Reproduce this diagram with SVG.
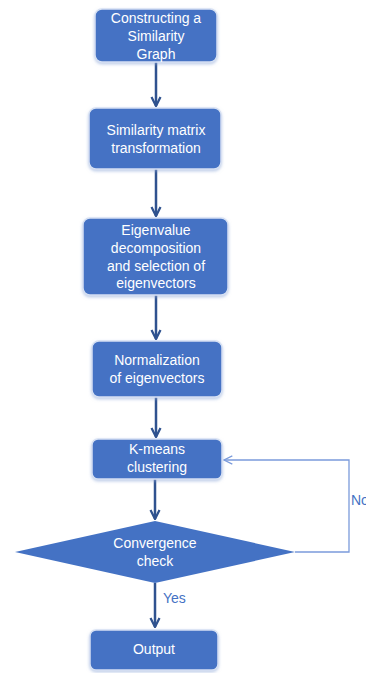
<svg xmlns="http://www.w3.org/2000/svg" width="366" height="673" viewBox="0 0 366 673">
<style>
.box{fill:#4472C4;stroke:#D6E0F3;stroke-width:1.5;filter:url(#sh)}
.t{font-family:"Liberation Sans",Arial,sans-serif;font-size:14px;fill:#FFFFFF;text-anchor:middle}
.lbl{font-family:"Liberation Sans",Arial,sans-serif;font-size:14px;fill:#4472C4}
.main{stroke:#2F528F;stroke-width:2.5;fill:none;marker-end:url(#ah)}
.fb{stroke:#7B9BDB;stroke-width:1.3;fill:none;marker-end:url(#ah2)}
</style>
<defs>
<filter id="sh" x="-10%" y="-10%" width="120%" height="130%">
<feDropShadow dx="0" dy="1.5" stdDeviation="1.5" flood-color="#8FA8D8" flood-opacity="0.6"/>
</filter>
<marker id="ah" viewBox="0 0 10 10" refX="9" refY="5" markerWidth="4.5" markerHeight="4.5" orient="auto" markerUnits="strokeWidth">
<path d="M1,1 L9,5 L1,9" fill="none" stroke="#2F528F" stroke-width="2"/>
</marker>
<marker id="ah2" viewBox="0 0 10 10" refX="9" refY="5" markerWidth="8" markerHeight="8" orient="auto" markerUnits="strokeWidth">
<path d="M1,1 L9,5 L1,9" fill="none" stroke="#7B9BDB" stroke-width="1.2"/>
</marker>
</defs>
<rect width="366" height="673" fill="#FFFFFF"/>
<g id="connectors">
<line class="main" x1="156" y1="62" x2="156" y2="106"/>
<line class="main" x1="156" y1="169" x2="156" y2="216"/>
<line class="main" x1="156" y1="295" x2="156" y2="339"/>
<line class="main" x1="156" y1="397" x2="156" y2="437"/>
<line class="main" x1="155" y1="479" x2="155" y2="519"/>
<line class="main" x1="155" y1="583" x2="155" y2="627"/>
<polyline class="fb" points="295,552 349,552 349,460 224,460"/>
<text class="lbl" x="163" y="603">Yes</text>
<text class="lbl" x="351" y="505">No</text>
</g>
<g id="n1"><rect class="box" x="95" y="9" width="122" height="53" rx="7"/>
<text class="t" x="156" y="22.5">Constructing a</text><text class="t" x="156" y="40.5">Similarity</text><text class="t" x="156" y="58.5">Graph</text></g>
<g id="n2"><rect class="box" x="89" y="108" width="132" height="61" rx="7"/>
<text class="t" x="156" y="135">Similarity matrix</text><text class="t" x="156" y="153">transformation</text></g>
<g id="n3"><rect class="box" x="83" y="218" width="145" height="77" rx="7"/>
<text class="t" x="156" y="235">Eigenvalue</text><text class="t" x="156" y="253">decomposition</text><text class="t" x="156" y="271">and selection of</text><text class="t" x="156" y="288">eigenvectors</text></g>
<g id="n4"><rect class="box" x="92" y="341" width="130" height="56" rx="7"/>
<text class="t" x="157" y="365">Normalization</text><text class="t" x="157" y="383">of eigenvectors</text></g>
<g id="n5"><rect class="box" x="92" y="439" width="130" height="40" rx="6"/>
<text class="t" x="157" y="454">K-means</text><text class="t" x="157" y="472">clustering</text></g>
<g id="n6"><polygon points="15,552 155,521 295,552 155,583" fill="#4472C4"/>
<text class="t" x="155" y="548">Convergence</text><text class="t" x="155" y="566">check</text></g>
<g id="n7"><rect class="box" x="90" y="630" width="128" height="40" rx="6"/>
<text class="t" x="154" y="654">Output</text></g>
</svg>
